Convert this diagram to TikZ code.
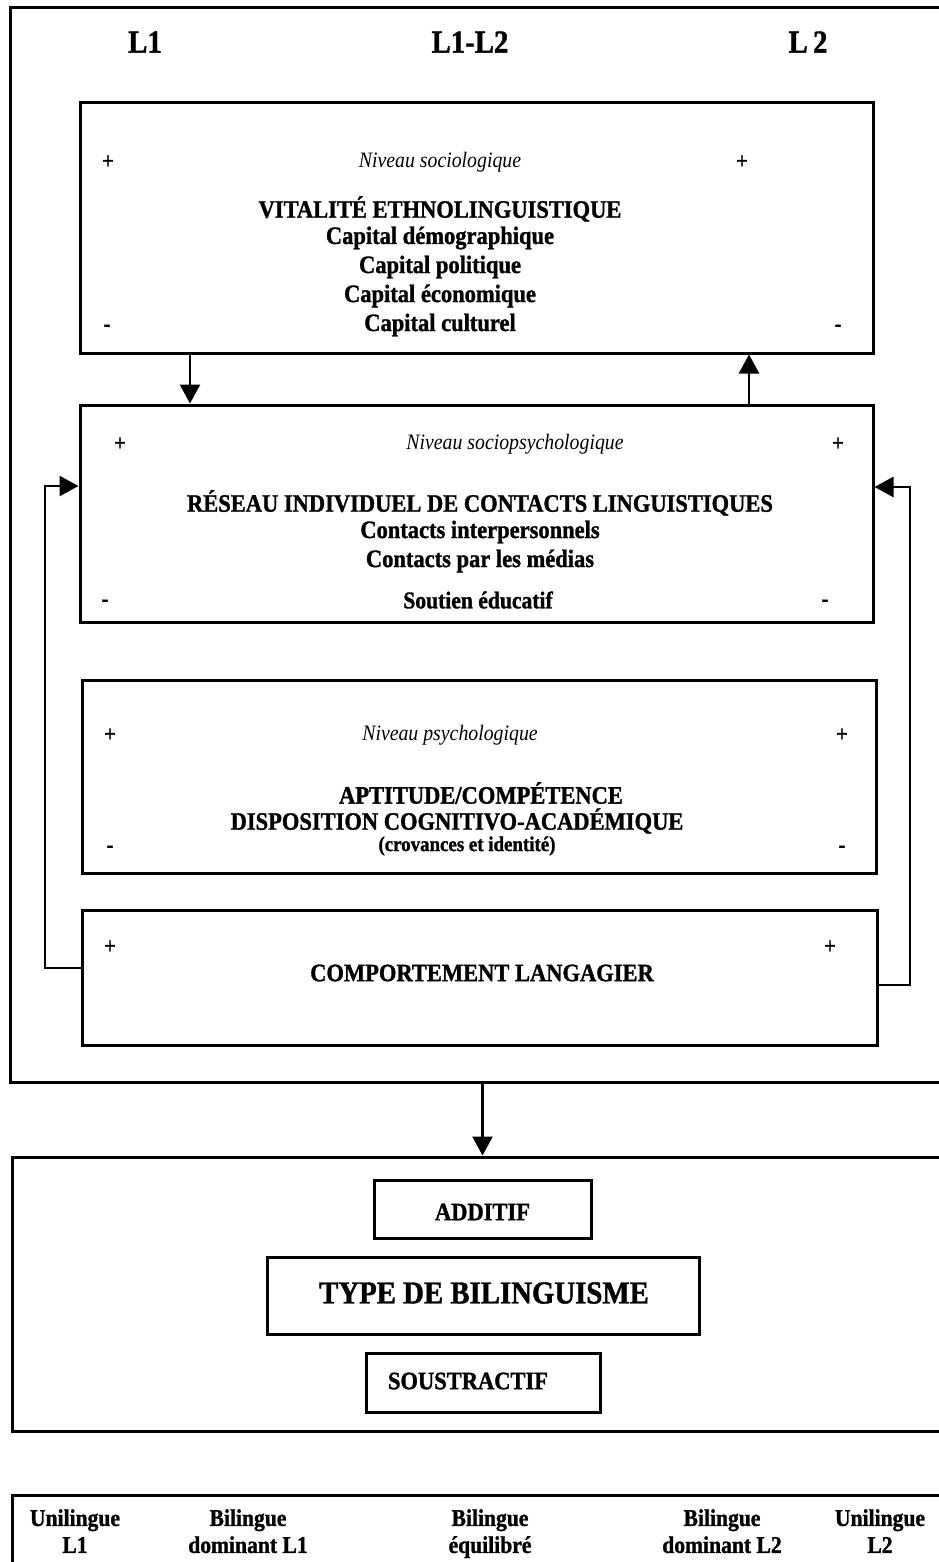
\documentclass[tikz,border=0pt]{standalone}
\usepackage{fontspec}
\setmainfont{Liberation Serif}[FakeStretch=0.9, BoldFeatures={FakeBold=1.2}]
\usetikzlibrary{arrows.meta}
\tikzset{
  frame/.style={draw, line width=3pt, inner sep=0pt},
  arr/.style={line width=2.5pt, -{Triangle[length=19pt,width=20pt]}},
  head/.style={inner sep=0pt, font=\fontsize{32}{36}\selectfont\bfseries},
  lvl/.style={inner sep=0pt, font=\fontsize{22}{26}\selectfont\itshape},
  big/.style={inner sep=0pt, font=\fontsize{25}{30}\selectfont\bfseries},
  mid/.style={inner sep=0pt, font=\fontsize{24}{28}\selectfont\bfseries},
  sml/.style={inner sep=0pt, font=\fontsize{21}{25}\selectfont\bfseries},
  sgn/.style={inner sep=0pt, font=\fontsize{23}{24}\selectfont\bfseries},
  cat/.style={inner sep=0pt, align=center, font=\fontsize{24}{27}\selectfont\bfseries},
}
\begin{document}
\begin{tikzpicture}[x=1pt,y=-1pt]
\useasboundingbox (0,0) rectangle (938,1562);
\fill[white] (0,0) rectangle (938,1562);

% outer frames
\node[frame, minimum width=950pt, minimum height=1074pt] (outerA) at (485,545) {};
\node[frame, minimum width=948pt, minimum height=274pt] (outerB) at (486,1294) {};
\node[frame, minimum width=948pt, minimum height=116pt] (outerC) at (486,1553) {};

% headings
\node[head] (hL1) at (145,42) {L1};
\node[head] (hL12) at (470,42) {L1-L2};
\node[head] (hL2) at (808,42) {L\,2};

% sociological box
\node[frame, minimum width=793pt, minimum height=250pt] (soc) at (476.5,228) {};
\node[sgn] (socp1) at (108,162) {+};
\node[sgn] (socp2) at (742,162) {+};
\node[lvl] (socl) at (440,162) {Niveau sociologique};
\node[big] (soct) at (440,209) {VITALITÉ ETHNOLINGUISTIQUE};
\node[big] (soc1) at (440,238) {Capital démographique};
\node[big] (soc2) at (440,267) {Capital politique};
\node[big] (soc3) at (440,296) {Capital économique};
\node[big] (soc4) at (440,325) {Capital culturel};
\node[sgn] (socm1) at (107,328) {-};
\node[sgn] (socm2) at (838,328) {-};

% sociopsychological box
\node[frame, minimum width=793pt, minimum height=217pt] (sp) at (476.5,513.5) {};
\node[sgn] (spp1) at (120,444) {+};
\node[sgn] (spp2) at (838,444) {+};
\node[lvl] (spl) at (515,444) {Niveau sociopsychologique};
\node[big] (spt) at (480,503) {RÉSEAU INDIVIDUEL DE CONTACTS LINGUISTIQUES};
\node[big] (sp1) at (480,532) {Contacts interpersonnels};
\node[big] (sp2) at (480,561) {Contacts par les médias};
\node[mid] (sp3) at (478,600) {Soutien éducatif};
\node[sgn] (spm1) at (105,603) {-};
\node[sgn] (spm2) at (825,603) {-};

% psychological box
\node[frame, minimum width=794pt, minimum height=193pt] (ps) at (479,776.5) {};
\node[sgn] (psp1) at (110,735) {+};
\node[sgn] (psp2) at (842,735) {+};
\node[lvl] (psl) at (450,735) {Niveau psychologique};
\node[big] (pst1) at (481,793) {APTITUDE/COMPÉTENCE};
\node[big] (pst2) at (457,821) {DISPOSITION COGNITIVO-ACADÉMIQUE};
\node[sml] (pst3) at (467,846) {(crovances et identité)};
\node[sgn] (psm1) at (110,849) {-};
\node[sgn] (psm2) at (842,849) {-};

% behaviour box
\node[frame, minimum width=795pt, minimum height=135pt] (comp) at (479.5,977.5) {};
\node[sgn] (cpp1) at (110,947) {+};
\node[sgn] (cpp2) at (830,947) {+};
\node[big] (cpt) at (482,973) {COMPORTEMENT LANGAGIER};

% arrows between levels
\coordinate (xa) at (190,0);
\coordinate (xb) at (749,0);
\draw[arr] (soc.south -| xa) -- (sp.north -| xa);
\draw[arr] (sp.north -| xb) -- (soc.south -| xb);

% feedback loops
\coordinate (fl1) at (45,968);
\coordinate (fl2) at (45,486);
\coordinate (fr1) at (910,985);
\coordinate (fr2) at (910,487);
\draw[arr] (comp.west |- fl1) -- (fl1) -- (fl2) -- (sp.west |- fl2);
\draw[arr] (comp.east |- fr1) -- (fr1) -- (fr2) -- (sp.east |- fr2);

% type of bilingualism
\node[frame, minimum width=217pt, minimum height=58pt] (add) at (482.5,1209) {};
\node[big] (addt) at (482.5,1212) {ADDITIF};
\node[frame, minimum width=432pt, minimum height=77pt] (typ) at (483,1295.5) {};
\node[inner sep=0pt, font=\fontsize{32}{36}\selectfont\bfseries] (typt) at (484,1293) {TYPE DE BILINGUISME};
\node[frame, minimum width=234pt, minimum height=59pt] (sou) at (483,1382.5) {};
\node[big] (sout) at (468,1381) {SOUSTRACTIF};

\draw[arr] (outerA.south -| add.north) -- (outerB.north -| add.north);

% continuum
\node[cat] (c1) at (75,1534) {Unilingue\strut\\L1\strut};
\node[cat] (c2) at (248,1534) {Bilingue\strut\\dominant L1\strut};
\node[cat] (c3) at (490,1534) {Bilingue\strut\\équilibré\strut};
\node[cat] (c4) at (722,1534) {Bilingue\strut\\dominant L2\strut};
\node[cat] (c5) at (880,1534) {Unilingue\strut\\L2\strut};
\end{tikzpicture}
\end{document}
